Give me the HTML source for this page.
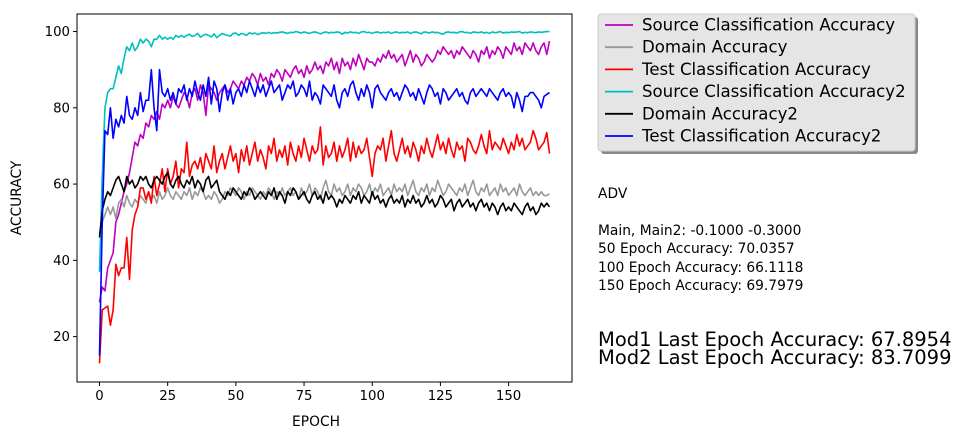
<!DOCTYPE html>
<html><head><meta charset="utf-8">
<style>
html,body{margin:0;padding:0;background:#fff;}
svg{display:block;font-family:"DejaVu Sans","Liberation Sans",sans-serif;}
</style></head>
<body>
<svg id="chart" width="962" height="439" viewBox="0 0 962 439" xmlns="http://www.w3.org/2000/svg"></svg>
<script>
const xTicks = [0,25,50,75,100,125,150];
const yTicks = [20,40,60,80,100];
const seriesNames = ["Source Classification Accuracy","Domain Accuracy","Test Classification Accuracy","Source Classification Accuracy2","Domain Accuracy2","Test Classification Accuracy2"];
const srcAcc = [29,33,32,38,40,42,50,52,55,58, 60,63,67,71,70,73,72,76,75,78, 77,79,77,81,80,82,80,83,81,80, 82,84,83,80,84,85,82,86,84,78, 86,85,84,82,84,85,86,84,85,87, 86,85,87,86,88,87,89,88,86,89, 87,88,86,89,88,90,89,87,90,89, 88,90,91,89,90,88,91,89,90,92, 90,91,89,92,91,93,90,92,89,93, 91,92,90,93,91,94,92,90,93,92, 92,91,93,92,94,93,95,93,94,92, 93,94,91,93,95,92,94,93,91,92, 94,93,92,93,95,94,96,95,94,95, 93,95,94,96,95,94,93,95,94,92, 95,94,96,93,95,94,96,95,93,96, 95,94,97,95,96,94,97,96,95,97, 95,94,96,97,94,97.5];
const domAcc = [47,50,52,54,52,54,51,55,56,54, 57,55,54,56,55,57,56,55,58,56, 57,55,58,56,57,59,57,56,58,57, 56,58,57,59,56,58,57,59,58,56, 57,56,58,57,55,56,58,57,59,58, 57,59,58,56,58,57,59,58,57,56, 58,57,59,58,56,58,57,59,57,58, 59,57,58,56,59,57,58,60,57,59, 58,56,59,61,58,57,60,58,59,57, 58,60,57,59,58,60,59,57,58,60, 57,59,58,60,57,58,59,57,60,58, 59,58,60,57,59,61,58,57,59,58, 60,57,59,58,61,59,57,58,60,59, 58,57,59,58,60,57,59,61,58,57, 59,58,60,57,58,59,57,60,58,59, 57,58,59,57,60,58,57,58,59,57, 58,57,58,57,57,57.5];
const testAcc = [13,27,27.5,28,23,27,39,36,38,38, 46,35,48,52,54,59,59,56,58,55, 62,57,60,64,58,64,60,62,66,59, 64,63,71,62,65,66,64,67,63,68, 66,64,70,63,66,68,64,67,70,66, 68,63,69,66,70,65,68,71,66,69, 67,64,70,68,72,66,69,67,70,65, 71,68,66,70,67,72,69,66,70,68, 69,75,65,70,67,68,71,66,70,67, 69,72,66,71,67,70,68,69,72,67, 62,68,70,69,72,66,70,74,68,66, 69,72,68,70,67,71,69,66,70,68, 72,69,67,70,73,69,71,68,72,69, 67,71,69,70,66,72,71,69,68,70, 73,70,68,74,69,71,70,69,72,70, 68,71,69,73,70,72,69,70,71,74, 72,69,70,71,73.5,68];
const srcAcc2 = [37,62,80,84,85,85,88,91,89,93, 96,95,97,95,96,98,97,98,97.5,96, 98,98,99,98,98.5,98,98.5,98,99,98.5, 99,98.5,99,99.3,98.7,99,99.5,98.5,99,99.3, 99,98.6,99.4,98.4,99,99.5,99.2,99,98.8,99.5, 99.6,99,99.5,99.3,99,99.7,99.4,99.6,99.2,99.5, 99.7,99.5,99.8,99.5,99.7,99.6,99.8,99.9,99.7,99.5, 99.8,99.7,100,99.8,99.6,99.9,99.7,99.5,99.8,99.9, 99.7,99.4,99.7,99.9,99.6,99.8,99.7,99.9,99.8,99.3, 99.8,99.6,99.9,99.7,99.8,99.5,99.9,100,99.7,99.8, 99.5,99.8,99.9,99.6,99.8,99.7,99.9,99.5,99.8,99.9, 99.6,99.8,99.7,99.9,99.5,99.8,99.9,99.7,99.4,99.9, 99.8,99.6,99.9,99.7,99.8,99.5,99.3,99.8,99.9,99.7, 99.8,99.6,99.9,100,99.7,99.8,99.5,99.9,99.8,99.7, 99.9,99.6,99.8,99.5,99.9,99.7,99.8,100,99.6,99.8, 99.7,99.9,99.8,99.9,100,99.6,99.8,99.7,99.9,99.8, 99.7,99.9,99.8,99.9,100,100];
const domAcc2 = [46,53,56,58,57,59,61,62,60,58, 62,60,61,59,60,62,61,62,60,59, 61,62,61,60,62,63,60,59,61,62, 60,59,61,60,62,59,61,60,58,61, 62,59,60,61,58,57,56,58,57,59, 58,57,56,58,57,59,58,56,57,58, 57,56,58,57,59,56,58,57,55,58, 57,59,58,56,57,58,56,55,57,58, 56,57,55,58,56,57,56,54,56,55, 57,56,55,57,56,58,55,57,56,55, 58,56,57,55,56,54,56,57,55,56, 55,57,54,56,55,57,55,56,54,55, 57,55,56,54,55,57,56,54,55,56, 53,55,56,54,55,56,54,55,53,55, 56,54,55,53,55,54,52,54,55,53, 54,53,55,54,53,52,54,55,53,54, 52,53,55,54,55,54];
const testAcc2 = [15,50,74,73,80,72,77,75,78,76, 83,78,77,80,78,84,79,82,82,90, 80,74,90,84,83,85,82,84,81,85, 84,86,82,85,83,87,84,82,86,83, 88,81,87,85,79,84,86,82,85,81, 84,85,83,86,84,87,85,83,86,84, 86,83,85,87,84,85,86,82,84,86, 85,87,83,84,86,85,83,87,82,84, 83,81,86,85,84,83,86,82,80,84, 85,83,86,87,84,82,85,83,86,84, 80,85,86,84,83,82,84,85,83,84, 82,84,86,85,83,84,82,85,83,81, 84,86,85,83,84,81,85,84,82,83, 84,85,83,84,82,81,84,85,83,84, 85,84,83,85,84,83,82,84,85,83, 84,83,80,84,82,79,83,83,84,84, 83,82,80,83,83.5,84];
const seriesData = [srcAcc, domAcc, testAcc, srcAcc2, domAcc2, testAcc2];
const seriesColors = ["#bf00bf","#999999","#ff0000","#00bfbf","#000000","#0000ff"];

const NS = "http://www.w3.org/2000/svg";
const svg = document.getElementById("chart");
const L = 77, R = 572, T = 14, B = 382;
const xMin = -8.25, xMax = 173.25, yMin = 8.1, yMax = 104.6;
function xs(v){ return L + (v - xMin) / (xMax - xMin) * (R - L); }
function ys(v){ return B - (v - yMin) / (yMax - yMin) * (B - T); }
function mk(tag, attrs, parent){
  const e = document.createElementNS(NS, tag);
  for (const k in attrs) e.setAttribute(k, attrs[k]);
  (parent || svg).appendChild(e);
  return e;
}

seriesData.forEach((arr, si) => {
  const d = arr.map((v, i) => (i ? "L" : "M") + xs(i).toFixed(2) + "," + ys(v).toFixed(2)).join(" ");
  const p = mk("path", {d: d, fill: "none", stroke: seriesColors[si], "stroke-width": 1.6, "stroke-linejoin": "round"});
  
  
});

const frame = mk("rect", {x: L, y: T, width: R - L, height: B - T, fill: "none", stroke: "#000", "stroke-width": 1});



xTicks.forEach(t => {
  const x = xs(t);
  mk("line", {x1: x, y1: B, x2: x, y2: B + 4, stroke: "#000"});
  const tx = mk("text", {x: x, y: B + 18, "text-anchor": "middle", "font-size": 13.3});
  tx.textContent = t;
  
  
});
yTicks.forEach(t => {
  const y = ys(t);
  mk("line", {x1: L - 4, y1: y, x2: L, y2: y, stroke: "#000"});
  const tx = mk("text", {x: L - 7, y: y + 4.5, "text-anchor": "end", "font-size": 13.3});
  tx.textContent = t;
  
  
});

const xt = mk("text", {x: 316, y: 426, "text-anchor": "middle", "font-size": 13.8});
xt.textContent = "EPOCH";


const yt = mk("text", {x: 21, y: 198, "text-anchor": "middle", "font-size": 13.8, transform: "rotate(-90 21 198)"});
yt.textContent = "ACCURACY";



const lg = mk("g", {});


mk("rect", {x: 601, y: 17, width: 317, height: 137, rx: 3, fill: "#888"}, lg);
mk("rect", {x: 598, y: 14, width: 317, height: 137, rx: 3, fill: "#e5e5e5", stroke: "#cccccc"}, lg);
seriesNames.forEach((n, i) => {
  const y = 25 + i * 22.2;
  const g = mk("g", {}, lg);
  
  
  mk("line", {x1: 605, y1: y, x2: 633, y2: y, stroke: seriesColors[i], "stroke-width": 1.8}, g);
  const t = mk("text", {x: 642, y: y + 5.5, "font-size": 16.6}, g);
  t.textContent = n;
});

const notes = [["ADV",198],["Main, Main2: -0.1000 -0.3000",235],["50 Epoch Accuracy: 70.0357",253],["100 Epoch Accuracy: 66.1118",272],["150 Epoch Accuracy: 69.7979",290]];
notes.forEach(n => {
  const t = mk("text", {x: 598, y: n[1], "font-size": 13.8});
  t.textContent = n[0];
  
  
});
const big = [["Mod1 Last Epoch Accuracy: 67.8954",346],["Mod2 Last Epoch Accuracy: 83.7099",364]];
big.forEach(n => {
  const t = mk("text", {x: 598, y: n[1], "font-size": 19.5});
  t.textContent = n[0];
  
  
});
</script>
</body></html>
